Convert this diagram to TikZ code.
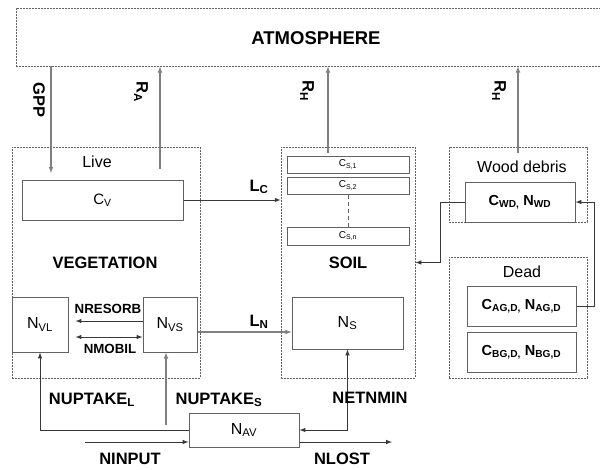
\documentclass[tikz,border=0pt]{standalone}
\usepackage{fontspec}
\setmainfont{Liberation Sans}
\tikzset{>=latex}
\colorlet{linecol}{black!78}
\colorlet{faintcol}{black!50}
\colorlet{boxcol}{black!62}
\tikzset{
  zone/.style={draw=boxcol, line width=0.9pt, dash pattern=on 1.6pt off 1.4pt, inner sep=0},
  pool/.style={draw=boxcol, line width=1pt, fill=white, inner sep=0},
  flow/.style={->, draw=linecol, line width=1pt},
  faint/.style={->, draw=faintcol, line width=1.1pt},
  big/.style={font=\bfseries\fontsize{16.5}{18}\selectfont},
  mid/.style={font=\bfseries\fontsize{13.3}{15}\selectfont},
  plain/.style={font=\fontsize{16}{18}\selectfont},
}

\begin{document}
\begin{tikzpicture}[x=1pt,y=-1pt]
  \useasboundingbox (0,0) rectangle (600,469);

  % COMPARTMENTS
  \node[zone, minimum width=586, minimum height=58] (atm) at (309,37) {};
  \node[font=\bfseries\fontsize{18.5}{20}\selectfont] (atmtxt) at (316,38) {ATMOSPHERE};
  \node[zone, minimum width=188, minimum height=231] (live) at (106,262.5) {};
  \node[zone, minimum width=134, minimum height=231] (soil) at (348,262.5) {};
  \node[zone, minimum width=138, minimum height=75]  (wood) at (518,184.5) {};
  \node[zone, minimum width=138, minimum height=121] (dead) at (518,317.5) {};

  \node[plain] (livetxt) at (97,162)  {Live};
  \node[big]   (vegtxt)  at (105,263) {VEGETATION};
  \node[big]   (soiltxt) at (348,263) {SOIL};
  \node[plain] (woodtxt) at (522,167) {Wood debris};
  \node[plain] (deadtxt) at (522,272) {Dead};

  % POOLS
  \node[pool, minimum width=161, minimum height=40, font=\fontsize{15}{17}\selectfont]
    (cv) at (102.5,200) {C\textsubscript{V}};
  \node[pool, minimum width=56, minimum height=55, plain] (nvl) at (40,324.5) {N\textsubscript{VL}};
  \node[pool, minimum width=54, minimum height=55, plain] (nvs) at (170,324.5) {N\textsubscript{VS}};
  \node[pool, minimum width=111, minimum height=52, plain] (ns) at (347.5,323) {N\textsubscript{S}};
  \node[pool, minimum width=122, minimum height=17, font=\fontsize{10}{11}\selectfont]
    (cs1) at (348,164.5) {C\textsubscript{S,1}};
  \node[pool, minimum width=122, minimum height=17, font=\fontsize{10}{11}\selectfont]
    (cs2) at (348,185.5) {C\textsubscript{S,2}};
  \node[pool, minimum width=122, minimum height=18, font=\fontsize{10}{11}\selectfont]
    (csn) at (348,236) {C\textsubscript{S,n}};
  \node[pool, minimum width=110, minimum height=40, font=\bfseries\fontsize{14.5}{16}\selectfont]
    (cwd) at (520,202) {C\textsubscript{WD,} N\textsubscript{WD}};
  \node[pool, minimum width=109, minimum height=40, font=\bfseries\fontsize{14.5}{16}\selectfont]
    (cag) at (521.5,306) {C\textsubscript{AG,D,} N\textsubscript{AG,D}};
  \node[pool, minimum width=109, minimum height=40, font=\bfseries\fontsize{14.5}{16}\selectfont]
    (cbg) at (521.5,352) {C\textsubscript{BG,D,} N\textsubscript{BG,D}};
  \node[pool, minimum width=110, minimum height=34, plain] (nav) at (244,430) {N\textsubscript{AV}};

  \draw[boxcol, line width=0.8pt, dash pattern=on 4pt off 3pt] (cs2.south) -- (csn.north);

  % FLUXES
  \coordinate (gppin) at (51,173);
  \coordinate (raout) at (160,169);
  \coordinate (rhsoil) at (328,153);
  \coordinate (rhwood) at (518,153);
  \coordinate (uptks) at (166,425);
  \coordinate (ninput) at (85,442);
  \coordinate (nlost) at (392,442);

  \draw[faint] (gppin |- atm.south) -- (gppin);
  \draw[faint] (raout) -- (raout |- atm.south);
  \draw[faint] (rhsoil) -- (rhsoil |- atm.south);
  \draw[faint] (rhwood) -- (rhwood |- atm.south);
  \draw[flow] (cv.east) -- (cv.east -| soil.west);
  \draw[faint] ([yshift=-7.5pt]nvs.east) -- ([yshift=-7.5pt]nvs.east -| ns.west);
  \draw[flow] ([yshift=3.5pt]nvs.west) -- ([yshift=3.5pt,xshift=7pt]nvl.east);
  \draw[flow,<->] ([yshift=-12.5pt,xshift=7pt]nvl.east) -- ([yshift=-12.5pt]nvs.west);
  \draw[flow] (nav.west) -| (nvl.south);
  \draw[faint] (uptks) -- (uptks |- nvs.south);
  \draw[flow,<->] (nav.east) -| (ns.south);
  \draw[flow] (ninput) -- (ninput -| nav.west);
  \draw[flow] (nlost -| nav.east) -- (nlost);
  \draw[flow] (cag.east) -- ++(18,0) |- (cwd.east);
  \draw[flow] (cwd.west) -- ++(-24,0) |- (soil.east);

  % FLUX LABELS
  \node[big, rotate=-90] (gpptxt) at (39,100) {GPP};
  \node[big, rotate=-90] (ratxt)  at (141,92) {R\textsubscript{A}};
  \node[big, rotate=-90] (rhstxt) at (307,91) {R\textsubscript{H}};
  \node[big, rotate=-90] (rhwtxt) at (499,91) {R\textsubscript{H}};
  \node[big] (lctxt) at (259,187) {L\textsubscript{C}};
  \node[big] (lntxt) at (259,322) {L\textsubscript{N}};
  \node[mid] (restxt) at (108,309) {NRESORB};
  \node[mid] (mobtxt) at (110,349) {NMOBIL};
  \node[big] (uplbl)  at (92,400)  {NUPTAKE\textsubscript{L}};
  \node[big] (upsbl)  at (219,400) {NUPTAKE\textsubscript{S}};
  \node[big] (mintxt) at (370,398) {NETNMIN};
  \node[big] (intxt)  at (130,459) {NINPUT};
  \node[big] (losttxt) at (342,459) {NLOST};
\end{tikzpicture}
\end{document}
